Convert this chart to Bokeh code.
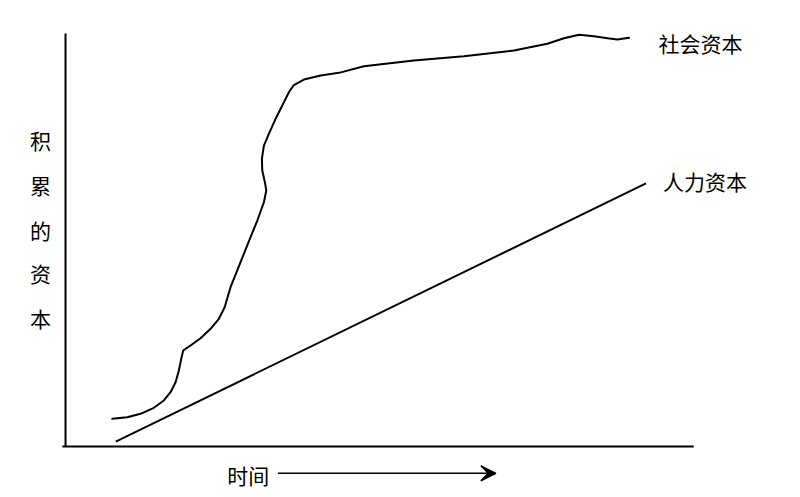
from bokeh.plotting import figure
from bokeh.models import Range1d, Arrow, VeeHead
from bokeh.core.properties import value
from bokeh.embed import file_html
from bokeh.resources import INLINE

# Social capital curve (time, accumulated capital)
social_t = [0.744, 0.982, 1.194, 1.406, 1.565, 1.672, 1.752, 1.804, 1.842, 1.874, 1.990, 2.150,
            2.309, 2.441, 2.532, 2.627, 2.734, 2.839, 2.946, 3.053, 3.158, 3.196, 3.174, 3.132,
            3.126, 3.158, 3.237, 3.344, 3.451, 3.556, 3.635, 3.795, 4.061, 4.352, 4.750, 5.546,
            6.342, 7.139, 7.670, 7.935, 8.174, 8.412, 8.626, 8.785, 8.970]
social_v = [0.671, 0.709, 0.792, 0.937, 1.114, 1.315, 1.557, 1.840, 2.123, 2.324, 2.446, 2.622,
            2.850, 3.092, 3.366, 3.857, 4.262, 4.666, 5.068, 5.472, 5.915, 6.199, 6.400, 6.683,
            6.966, 7.288, 7.571, 7.935, 8.257, 8.579, 8.753, 8.886, 8.983, 9.048, 9.208, 9.346,
            9.450, 9.588, 9.751, 9.886, 9.969, 9.935, 9.886, 9.855, 9.896]

# Human capital line
human_t = [0.80, 9.24]
human_v = [0.12, 6.37]

# Axes extents
yaxis_t = [0.0, 0.0]
yaxis_v = [0.0, 10.0]
xaxis_t = [-0.05, 10.0]
xaxis_v = [0.0, 0.0]

# Texts
ylabel_chars = ["积", "累", "的", "资", "本"]
ylabel_t = [-0.40] * 5
ylabel_v = [7.43, 6.34, 5.25, 4.19, 3.10]
xlabel = ["时间"]
xlabel_t = [2.91]
xlabel_v = [-0.68]
arrow_t = [3.38, 6.85]
arrow_v = [-0.65, -0.65]
series_labels = ["社会资本", "人力资本"]
series_label_t = [9.44, 9.51]
series_label_v = [9.76, 6.44]

FONT = value("Noto Sans CJK SC")

p = figure(width=800, height=497, output_backend="svg", toolbar_location=None,
           x_axis_type=None, y_axis_type=None,
           x_range=Range1d(-1.035, 11.70), y_range=Range1d(-1.235, 10.80),
           min_border=0, min_border_left=0, min_border_right=0,
           min_border_top=0, min_border_bottom=0)
p.outline_line_color = None
p.grid.visible = False
p.background_fill_color = "white"
p.border_fill_color = "white"

p.line(yaxis_t, yaxis_v, line_color="black", line_width=2)
p.line(xaxis_t, xaxis_v, line_color="black", line_width=2)

p.line(social_t, social_v, line_color="black", line_width=2, line_join="round", line_cap="round")
p.line(human_t, human_v, line_color="black", line_width=2)

p.text(ylabel_t, ylabel_v, text=ylabel_chars, text_font=FONT, text_font_size="21px",
       text_align="center", text_baseline="middle", text_color="black")
p.text(xlabel_t, xlabel_v, text=xlabel, text_font=FONT, text_font_size="21px",
       text_align="center", text_baseline="middle", text_color="black")
p.text(series_label_t, series_label_v, text=series_labels, text_font=FONT,
       text_font_size="21px", text_align="left", text_baseline="middle", text_color="black")

p.add_layout(Arrow(x_start=arrow_t[0], y_start=arrow_v[0], x_end=arrow_t[1], y_end=arrow_v[1],
                   line_color="black", line_width=1.5,
                   end=VeeHead(size=15, fill_color="black", line_color="black", line_width=1.5)))

open("out.html", "w").write(file_html(p, INLINE))
